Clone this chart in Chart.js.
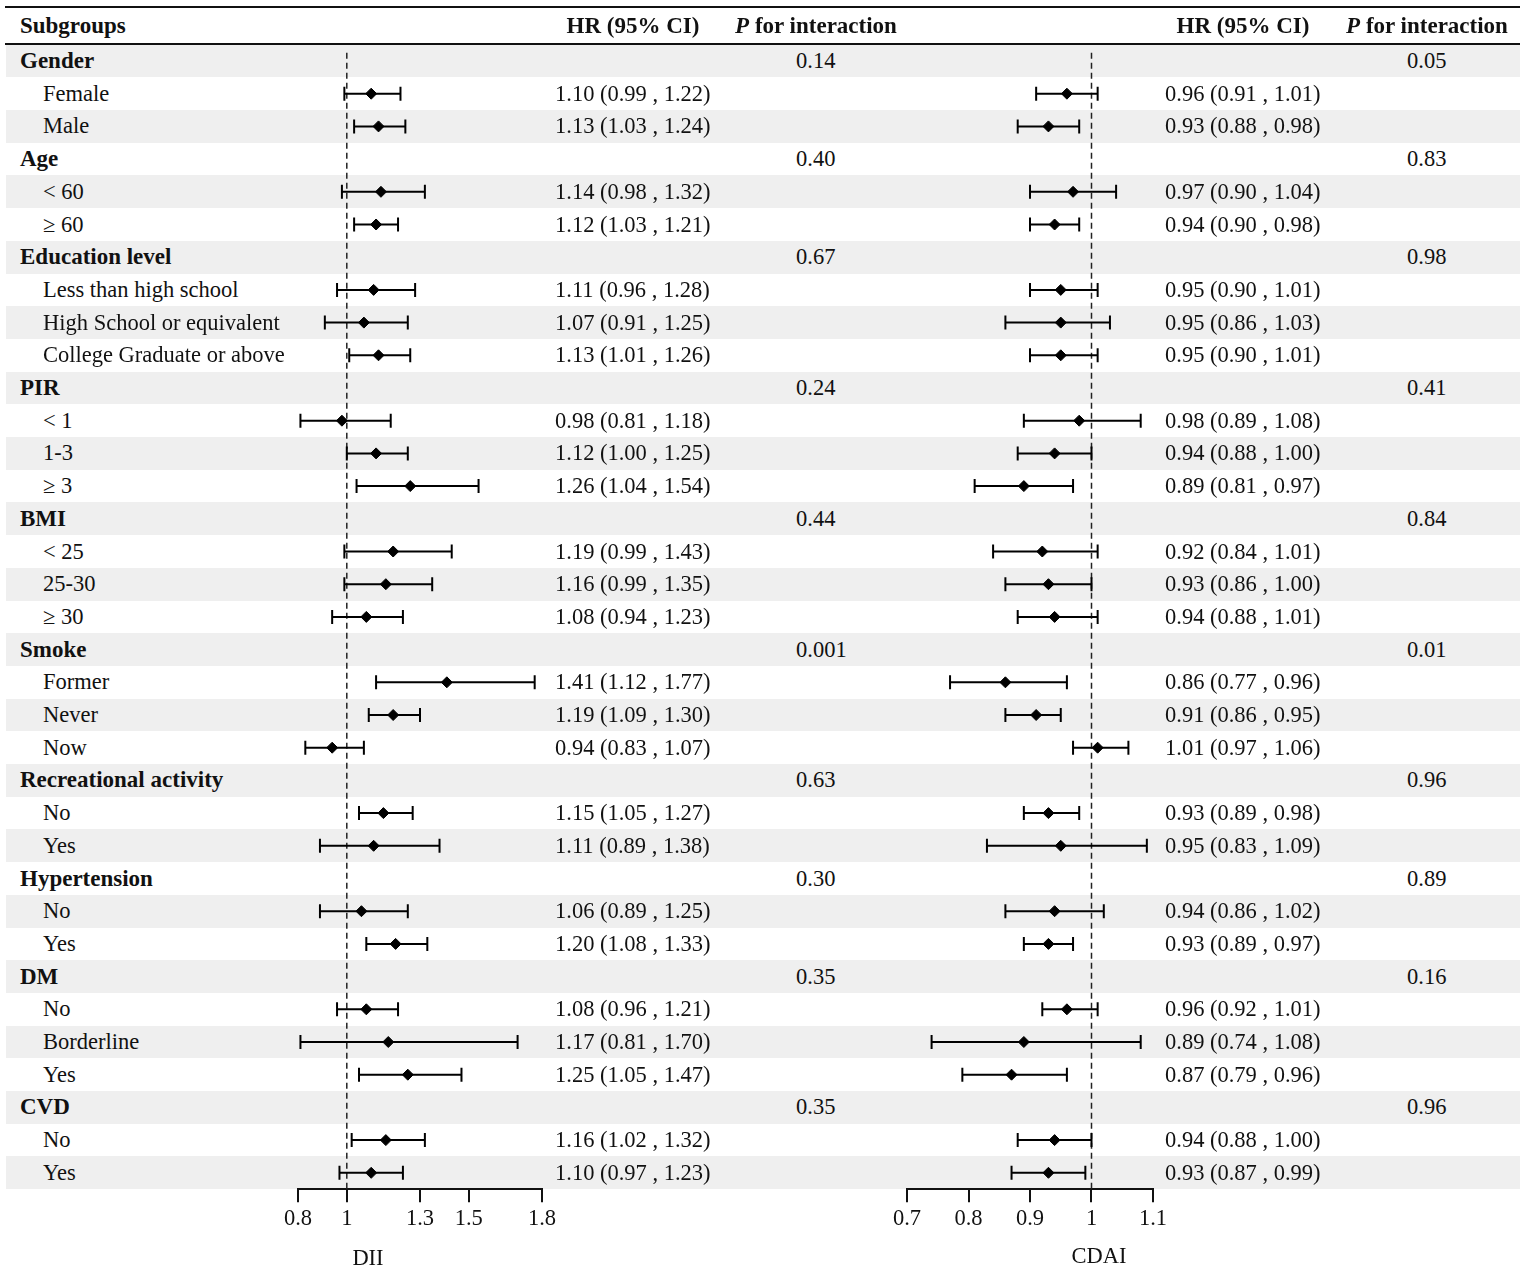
<!DOCTYPE html>
<html>
<head>
<meta charset="utf-8">
<script src="https://cdn.jsdelivr.net/npm/chart.js@4.4.1/dist/chart.umd.min.js"></script>
<style>
body { margin: 0; background: #fff; }
#page {
    position: relative; width: 1525px; height: 1272px; overflow: hidden;
    font-family: "Liberation Serif", "Times New Roman", serif;
    font-size: 22.5px; color: #111;
}
.stripe { position: absolute; left: 6px; width: 1514px; background: #efefef; z-index: 0; }
.rule { position: absolute; left: 5px; width: 1515px; height: 2px; background: #111; z-index: 3; }
.txt { position: absolute; white-space: nowrap; z-index: 2; }
canvas { position: absolute; top: 0; z-index: 1; }
</style>
</head>
<body>
<div id="page">
    <div class="rule" style="top:6px"></div>
    <div class="rule" style="top:43px"></div>
    <canvas id="chartDII" width="304" height="1272" style="left:268px"></canvas>
    <canvas id="chartCDAI" width="306" height="1272" style="left:877px"></canvas>
</div>

<script>
// ---------------- DATA ----------------
const rowLabels = [
    "Gender", "Female", "Male",
    "Age", "< 60", "≥ 60",
    "Education level", "Less than high school", "High School or equivalent", "College Graduate or above",
    "PIR", "< 1", "1-3", "≥ 3",
    "BMI", "< 25", "25-30", "≥ 30",
    "Smoke", "Former", "Never", "Now",
    "Recreational activity", "No", "Yes",
    "Hypertension", "No", "Yes",
    "DM", "No", "Borderline", "Yes",
    "CVD", "No", "Yes"
];
const isGroup = [
    1,0,0, 1,0,0, 1,0,0,0, 1,0,0,0, 1,0,0,0, 1,0,0,0, 1,0,0, 1,0,0, 1,0,0,0, 1,0,0
];

// DII
const diiHR = [null,1.10,1.13, null,1.14,1.12, null,1.11,1.07,1.13, null,0.98,1.12,1.26,
               null,1.19,1.16,1.08, null,1.41,1.19,0.94, null,1.15,1.11, null,1.06,1.20,
               null,1.08,1.17,1.25, null,1.16,1.10];
const diiLo = [null,0.99,1.03, null,0.98,1.03, null,0.96,0.91,1.01, null,0.81,1.00,1.04,
               null,0.99,0.99,0.94, null,1.12,1.09,0.83, null,1.05,0.89, null,0.89,1.08,
               null,0.96,0.81,1.05, null,1.02,0.97];
const diiHi = [null,1.22,1.24, null,1.32,1.21, null,1.28,1.25,1.26, null,1.18,1.25,1.54,
               null,1.43,1.35,1.23, null,1.77,1.30,1.07, null,1.27,1.38, null,1.25,1.33,
               null,1.21,1.70,1.47, null,1.32,1.23];
const diiP = ["0.14","","", "0.40","","", "0.67","","","", "0.24","","","",
              "0.44","","","", "0.001","","","", "0.63","","", "0.30","","",
              "0.35","","","", "0.35","",""];

// CDAI
const cdaiHR = [null,0.96,0.93, null,0.97,0.94, null,0.95,0.95,0.95, null,0.98,0.94,0.89,
                null,0.92,0.93,0.94, null,0.86,0.91,1.01, null,0.93,0.95, null,0.94,0.93,
                null,0.96,0.89,0.87, null,0.94,0.93];
const cdaiLo = [null,0.91,0.88, null,0.90,0.90, null,0.90,0.86,0.90, null,0.89,0.88,0.81,
                null,0.84,0.86,0.88, null,0.77,0.86,0.97, null,0.89,0.83, null,0.86,0.89,
                null,0.92,0.74,0.79, null,0.88,0.87];
const cdaiHi = [null,1.01,0.98, null,1.04,0.98, null,1.01,1.03,1.01, null,1.08,1.00,0.97,
                null,1.01,1.00,1.01, null,0.96,0.95,1.06, null,0.98,1.09, null,1.02,0.97,
                null,1.01,1.08,0.96, null,1.00,0.99];
const cdaiP = ["0.05","","", "0.83","","", "0.98","","","", "0.41","","","",
               "0.84","","","", "0.01","","","", "0.96","","", "0.89","","",
               "0.16","","","", "0.96","",""];

const diiTicks = [0.8, 1, 1.3, 1.5, 1.8];
const cdaiTicks = [0.7, 0.8, 0.9, 1, 1.1];

// ---------------- LAYOUT ----------------
const ROW_H = 32.7;
const TOP = 44.65;
const page = document.getElementById("page");

function addText(html, x, yc, opts = {}) {
    const d = document.createElement("div");
    d.className = "txt";
    d.innerHTML = html;
    d.style.top = (yc - 16) + "px";
    d.style.height = "32px";
    d.style.lineHeight = "32px";
    if (opts.center) {
        d.style.left = (x - 200) + "px";
        d.style.width = "400px";
        d.style.textAlign = "center";
    } else {
        d.style.left = x + "px";
    }
    if (opts.bold) d.style.fontWeight = "bold";
    if (opts.size) d.style.fontSize = opts.size + "px";
    page.appendChild(d);
}

const fmt = (h, l, u) => h.toFixed(2) + " (" + l.toFixed(2) + " , " + u.toFixed(2) + ")";

// header
addText("Subgroups", 20, 26, { bold: true, size: 23 });
addText("HR (95% CI)", 633, 26, { bold: true, center: true, size: 23 });
addText("<i>P</i> for interaction", 816, 26, { bold: true, center: true, size: 23 });
addText("HR (95% CI)", 1243, 26, { bold: true, center: true, size: 23 });
addText("<i>P</i> for interaction", 1427, 26, { bold: true, center: true, size: 23 });

rowLabels.forEach((lab, i) => {
    const yc = TOP + ROW_H * (i + 0.5);
    if (i % 2 === 0) {
        const s = document.createElement("div");
        s.className = "stripe";
        s.style.top = (TOP + ROW_H * i) + "px";
        s.style.height = ROW_H + "px";
        page.appendChild(s);
    }
    if (isGroup[i]) addText(lab, 20, yc, { bold: true, size: 23 });
    else addText(lab, 43, yc);
    if (diiHR[i] != null) addText(fmt(diiHR[i], diiLo[i], diiHi[i]), 555, yc);
    if (cdaiHR[i] != null) addText(fmt(cdaiHR[i], cdaiLo[i], cdaiHi[i]), 1165, yc);
    if (diiP[i]) addText(diiP[i], 796, yc);
    if (cdaiP[i]) addText(cdaiP[i], 1407, yc);
});

addText("DII", 368, 1258, { center: true });
addText("CDAI", 1099, 1256, { center: true });

// ---------------- FOREST PLUGIN ----------------
const forestLines = {
    id: "forestLines",
    beforeDatasetsDraw(chart) {
        const { ctx, chartArea, scales: { x, y } } = chart;
        ctx.save();
        // reference line at HR = 1
        const x1 = x.getPixelForValue(1);
        ctx.strokeStyle = "#222";
        ctx.lineWidth = 1.5;
        ctx.setLineDash([6, 4]);
        ctx.beginPath();
        ctx.moveTo(x1, chartArea.top + 8);
        ctx.lineTo(x1, chartArea.bottom);
        ctx.stroke();
        ctx.setLineDash([]);

        // CI whiskers
        ctx.strokeStyle = "#000";
        ctx.lineWidth = 2;
        chart.data.datasets[0].data.forEach(p => {
            const py = y.getPixelForValue(p.y);
            const pl = x.getPixelForValue(p.lo);
            const ph = x.getPixelForValue(p.hi);
            ctx.beginPath();
            ctx.moveTo(pl, py); ctx.lineTo(ph, py);
            ctx.moveTo(pl, py - 7); ctx.lineTo(pl, py + 7);
            ctx.moveTo(ph, py - 7); ctx.lineTo(ph, py + 7);
            ctx.stroke();
        });
        ctx.restore();
    }
};

function makeForest(id, hr, lo, hi, tickVals) {
    const pts = [];
    hr.forEach((v, i) => {
        if (v != null) pts.push({ x: v, y: i, lo: lo[i], hi: hi[i] });
    });
    return new Chart(document.getElementById(id), {
        type: "scatter",
        data: {
            datasets: [{
                data: pts,
                pointStyle: "rectRot",
                pointRadius: 5.5,
                pointHoverRadius: 5.5,
                backgroundColor: "#000",
                borderColor: "#000",
                borderWidth: 1
            }]
        },
        options: {
            responsive: false,
            animation: false,
            layout: { padding: { top: TOP, left: 30, right: 30, bottom: 0 } },
            plugins: { legend: { display: false }, tooltip: { enabled: false } },
            scales: {
                y: {
                    type: "linear", display: false, reverse: true,
                    min: -0.5, max: rowLabels.length - 0.5
                },
                x: {
                    type: "linear",
                    min: tickVals[0], max: tickVals[tickVals.length - 1],
                    afterBuildTicks: s => { s.ticks = tickVals.map(v => ({ value: v })); },
                    afterFit: s => { s.height = 1272 - (TOP + ROW_H * rowLabels.length); },
                    grid: { drawOnChartArea: false, drawTicks: true, tickLength: 13, color: "#111", lineWidth: 2 },
                    border: { display: true, color: "#111", width: 2 },
                    ticks: {
                        color: "#111", padding: 3, autoSkip: false, maxRotation: 0,
                        font: { family: "Liberation Serif", size: 22.5 },
                        callback: v => String(v)
                    }
                }
            }
        },
        plugins: [forestLines]
    });
}

makeForest("chartDII", diiHR, diiLo, diiHi, diiTicks);
makeForest("chartCDAI", cdaiHR, cdaiLo, cdaiHi, cdaiTicks);
</script>
</body>
</html>
